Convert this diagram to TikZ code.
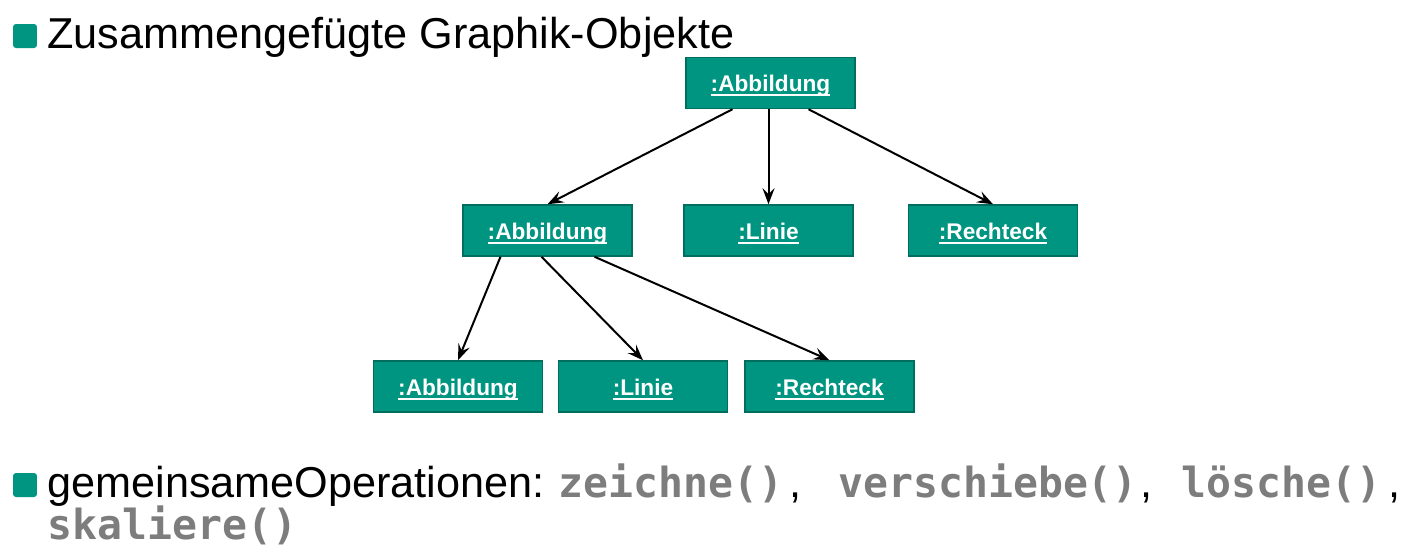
\documentclass[tikz,border=0pt]{standalone}
\usepackage{fontspec}
\setmainfont{Liberation Sans}
\newfontfamily\codefont{DejaVu Sans Mono}
\usetikzlibrary{arrows.meta, calc}
\definecolor{objgreen}{RGB}{0,149,128}
\definecolor{objborder}{RGB}{0,110,94}
\definecolor{codegray}{RGB}{125,125,125}
\newcommand{\objname}[1]{\setbox0\hbox{#1}\rlap{\rule[-2.4pt]{\wd0}{1.1pt}}\box0}

\begin{document}
\begin{tikzpicture}[x=0.02cm, y=-0.02cm,
    obj/.style={draw=objborder, line width=0.03cm, fill=objgreen, text=white,
        font=\fontsize{12.9}{14}\selectfont\bfseries, minimum width=3.38cm,
        minimum height=1.02cm, inner sep=0pt, text height=10.2pt, text depth=0pt},
    pfeil/.style={-{Stealth[length=0.32cm, width=0.24cm, inset=0.12cm]}, line width=0.04cm},
    bullet/.style={fill=objgreen, rounded corners=0.06cm, minimum size=0.48cm, inner sep=0pt},
    bigtext/.style={font=\fontsize{24.6}{28}\selectfont, anchor=base west, inner sep=0pt},
    code/.style={font=\codefont\fontsize{23.6}{28}\selectfont\bfseries, text=codegray,
        anchor=base west, inner sep=0pt}]
    \useasboundingbox (0,0) rectangle (1412,558);

    % Ueberschrift
    \node[bullet] (punkt1) at (25,36) {};
    \node[bigtext] (titel) at (47,48) {Zusammengefügte Graphik-Objekte};

    % Objekte
    \node[obj] (abb1) at (770.5,83) {\objname{:Abbildung}};
    \node[obj] (abb2) at (547.5,230.5) {\objname{:Abbildung}};
    \node[obj] (linie1) at (768.5,230.5) {\objname{:Linie}};
    \node[obj] (recht1) at (993,230.5) {\objname{:Rechteck}};
    \node[obj] (abb3) at (458,386.5) {\objname{:Abbildung}};
    \node[obj] (linie2) at (643,386.5) {\objname{:Linie}};
    \node[obj] (recht2) at (829.5,386.5) {\objname{:Rechteck}};

    % Verbindungen
    \draw[pfeil] ($(abb1.south)+(-38,0)$) -- (abb2.north);
    \draw[pfeil] (abb1.south -| linie1.north) -- (linie1.north);
    \draw[pfeil] ($(abb1.south)+(38,0)$) -- (recht1.north);
    \foreach \ziel/\dx in {abb3/-47, linie2/-6, recht2/47} {
        \draw[pfeil] ($(abb2.south)+(\dx,0)$) -- (\ziel.north);
    }

    % Operationen
    \node[bullet] (punkt2) at (25,485) {};
    \node[bigtext] (ops) at (47,497) {gemeinsameOperationen:};
    \node[code] (op1) at (558,497) {zeichne()};
    \node[bigtext] (komma1) at (789,497) {,};
    \node[code] (op2) at (838,497) {verschiebe()};
    \node[bigtext] (komma2) at (1140,497) {,};
    \node[code] (op3) at (1181,497) {lösche()};
    \node[bigtext] (komma3) at (1388,497) {,};
    \node[code] (op4) at (47,539) {skaliere()};
\end{tikzpicture}
\end{document}
